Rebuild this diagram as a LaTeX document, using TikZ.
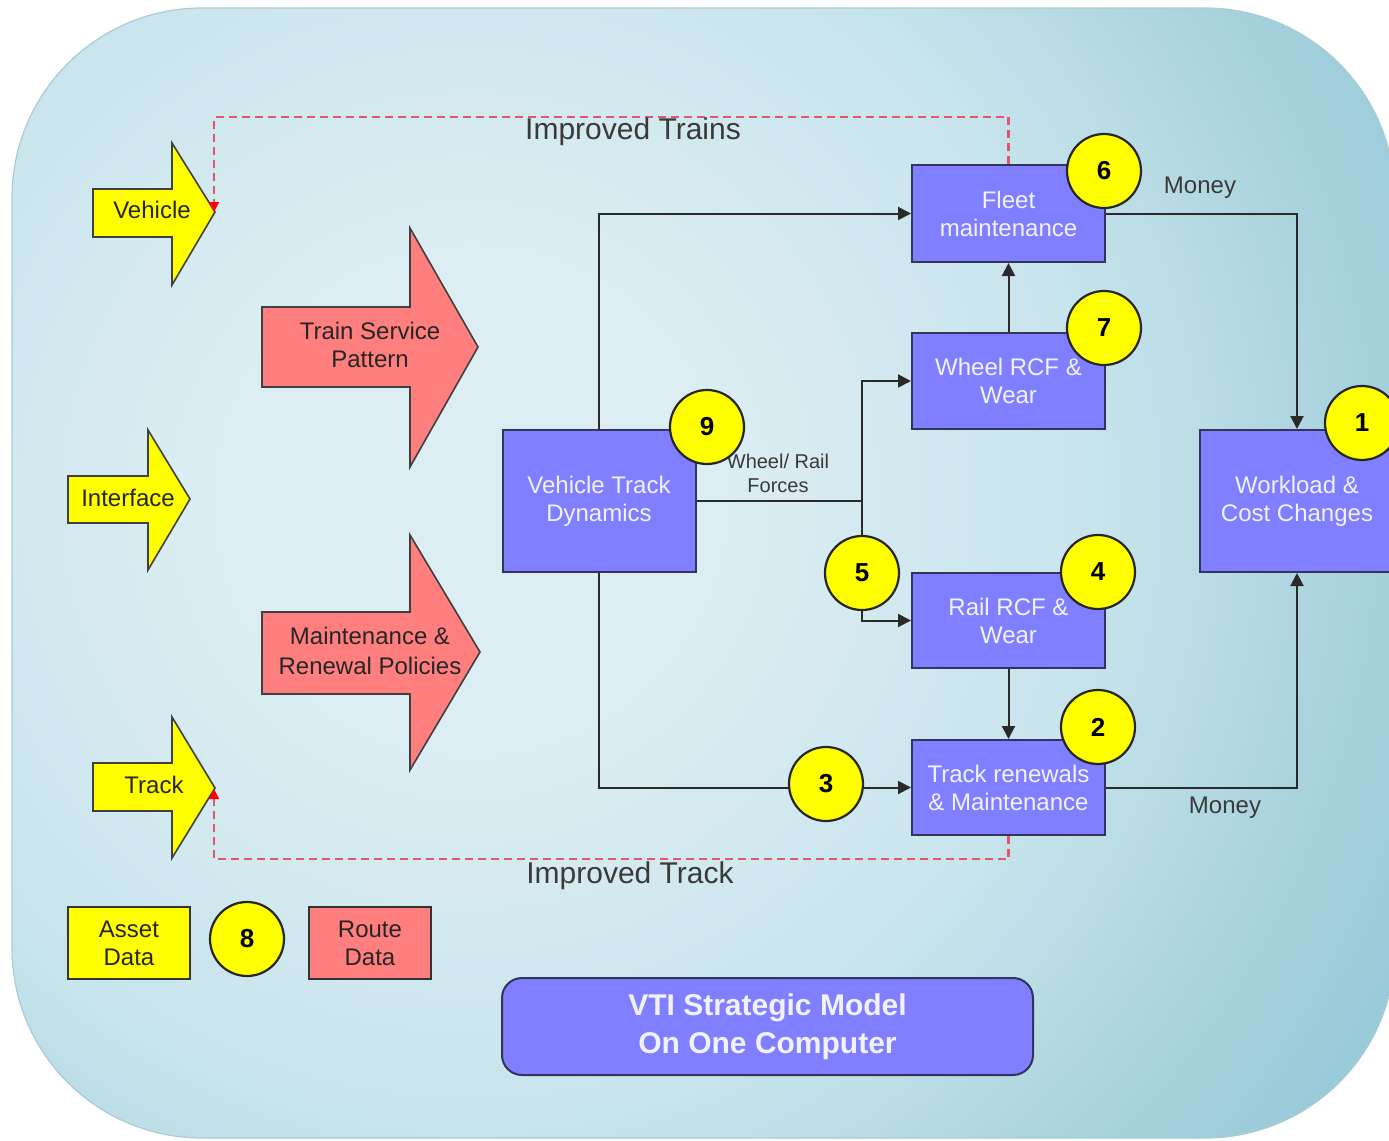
\documentclass[tikz,border=0pt]{standalone}
\usepackage{fontspec}
\setmainfont{Liberation Sans}
\usetikzlibrary{arrows.meta}
\definecolor{boxblue}{HTML}{7F7FFF}
\definecolor{boxedge}{HTML}{33335E}
\definecolor{boxtext}{HTML}{F2F2FF}
\definecolor{sunny}{HTML}{FFFF00}
\definecolor{salmon}{HTML}{FF7F7F}
\definecolor{bglight}{HTML}{DCEEF3}
\definecolor{bgsoft}{HTML}{C8E4EC}
\definecolor{bgmid}{HTML}{A8D2DD}
\definecolor{bgdark}{HTML}{94C8D6}
\definecolor{bgedge}{HTML}{A9CDD7}
\definecolor{dashred}{HTML}{E0586C}
\definecolor{inkgrey}{HTML}{3A3A3A}
\definecolor{wire}{HTML}{2A2A2A}
% glow for the backdrop
\pgfdeclareradialshading{backdrop}{\pgfpoint{0bp}{0bp}}{color(0bp)=(bglight); color(5bp)=(bglight); color(13bp)=(bgsoft); color(18.5bp)=(bgmid); color(23bp)=(bgdark); color(50bp)=(bgdark)}
\begin{document}
\begin{tikzpicture}[x=0.5pt,y=-0.5pt,
  box/.style={draw=boxedge, line width=1pt, fill=boxblue, text=boxtext, align=center,
    font=\fontsize{12}{14}\selectfont, inner sep=0pt, minimum width=96.5pt, minimum height=48pt},
  databox/.style={draw=black!80, line width=1pt, align=center, text=black!85,
    font=\fontsize{12}{14}\selectfont, inner sep=0pt, minimum width=61pt, minimum height=36pt},
  badge/.style={circle, draw=black!85, line width=1.1pt, fill=sunny, text=black,
    font=\bfseries\fontsize{13}{15}\selectfont, minimum size=37pt, inner sep=0pt},
  yellowarrow/.style={draw=black!75, line width=0.8pt, fill=sunny},
  redarrow/.style={draw=black!75, line width=0.8pt, fill=salmon},
  arrowtext/.style={align=center, text=black!85, font=\fontsize{12}{14}\selectfont},
  note/.style={text=inkgrey, font=\fontsize{15}{18}\selectfont},
  smallnote/.style={text=inkgrey, font=\fontsize{12}{14}\selectfont},
  link/.style={draw=wire, line width=1pt, -{Triangle[length=6.5pt,width=6.5pt]}},
  plainlink/.style={draw=wire, line width=1pt},
  feedback/.style={draw=dashred, line width=1.1pt, dash pattern=on 4pt off 2.5pt,
    -{Triangle[length=5pt,width=5pt,color=red]}}
]
\useasboundingbox (0,0) rectangle (1389,1141);
\clip (0,0) rectangle (1389,1141);

% backdrop panel
\begin{scope}
  \clip[rounded corners=95pt] (12,8) rectangle (1395,1138);
  \fill[bgdark] (0,0) rectangle (1400,1141);
  \shade[shading=backdrop] (470,500) circle[radius=600pt];
\end{scope}
\draw[bgedge, line width=0.6pt, rounded corners=95pt] (12,8) rectangle (1395,1138);

% input block arrows
\path[yellowarrow] (93,189) -- (172,189) -- (172,143) -- (215,212) -- (172,285) -- (172,237) -- (93,237) -- cycle;
\path[yellowarrow] (68,476) -- (148,476) -- (148,430) -- (190,499) -- (148,570) -- (148,523) -- (68,523) -- cycle;
\path[yellowarrow] (93,763) -- (172,763) -- (172,717) -- (215,788) -- (172,858) -- (172,811) -- (93,811) -- cycle;
\path[redarrow] (262,307) -- (410,307) -- (410,228) -- (478,347) -- (410,467) -- (410,387) -- (262,387) -- cycle;
\path[redarrow] (262,612) -- (410,612) -- (410,535) -- (480,652) -- (410,770) -- (410,694) -- (262,694) -- cycle;
\coordinate (vehtip) at (214,212);
\coordinate (tracktip) at (214,789);

\node[arrowtext] (vehicle) at (152,210) {Vehicle};
\node[arrowtext] (interface) at (128,498) {Interface};
\node[arrowtext] (track) at (154,785) {Track};
\node[arrowtext] (service) at (370,345) {Train Service\\Pattern};
\node[arrowtext, font=\fontsize{12}{15}\selectfont] (policies) at (370,651) {Maintenance \&\\Renewal Policies};

% model blocks
\node[box, minimum height=71pt] (vtd) at (599,501) {Vehicle Track\\Dynamics};
\node[box, minimum height=48.5pt] (fleet) at (1008.5,213.5) {Fleet\\maintenance};
\node[box] (wheel) at (1008.5,381) {Wheel RCF \&\\Wear};
\node[box, minimum height=47.5pt] (rail) at (1008.5,620.5) {Rail RCF \&\\Wear};
\node[box, minimum height=47.5pt] (renew) at (1008.5,787.5) {Track renewals\\\& Maintenance};
\node[box, minimum width=97pt, minimum height=71pt] (work) at (1297,501) {Workload \&\\Cost Changes};

\node[databox, fill=sunny] (asset) at (129,943) {Asset\\Data};
\node[databox, fill=salmon] (route) at (370,943) {Route\\Data};

\node[box, rounded corners=10pt, minimum width=265.5pt, minimum height=48.5pt,
  font=\bfseries\fontsize{15}{19}\selectfont] (vti) at (767.5,1026.5) {VTI Strategic Model\\On One Computer};

% flows
\coordinate (split) at (862,501);
\draw[link] (vtd.north) |- (fleet.west);
\draw[link] (vtd.south) |- (renew.west);
\draw[plainlink] (vtd.east) -- (split);
\draw[link] (split) |- (wheel.west);
\draw[link] (split) |- (rail.west);
\draw[link] (wheel.north) -- (fleet.south);
\draw[link] (rail.south) -- (renew.north);
\draw[link] (fleet.east) -| (work.north);
\draw[link] (renew.east) -| (work.south);

% feedback loops
\draw[feedback] (fleet.north) -- ++(0,-47) -| (vehtip);
\draw[feedback] (renew.south) -- ++(0,23) -| (tracktip);

% labels
\node[note] (trainslbl) at (633,132) {Improved Trains};
\node[note] (tracklbl) at (630,876) {Improved Track};
\node[smallnote] (money1) at (1200,188) {Money};
\node[smallnote] (money2) at (1225,808) {Money};
\node[align=center, text=inkgrey, font=\fontsize{10}{12}\selectfont] (forces) at (778,473) {Wheel/ Rail\\Forces};

% step numbers
\node[badge] (n9) at (707,427) {9};
\node[badge] (n6) at (1104,171) {6};
\node[badge] (n7) at (1104,328) {7};
\node[badge] (n1) at (1362,423) {1};
\node[badge] (n5) at (862,573) {5};
\node[badge] (n4) at (1098,572) {4};
\node[badge] (n2) at (1098,727) {2};
\node[badge] (n3) at (826,784) {3};
\node[badge] (n8) at (247,939) {8};
\end{tikzpicture}
\end{document}
